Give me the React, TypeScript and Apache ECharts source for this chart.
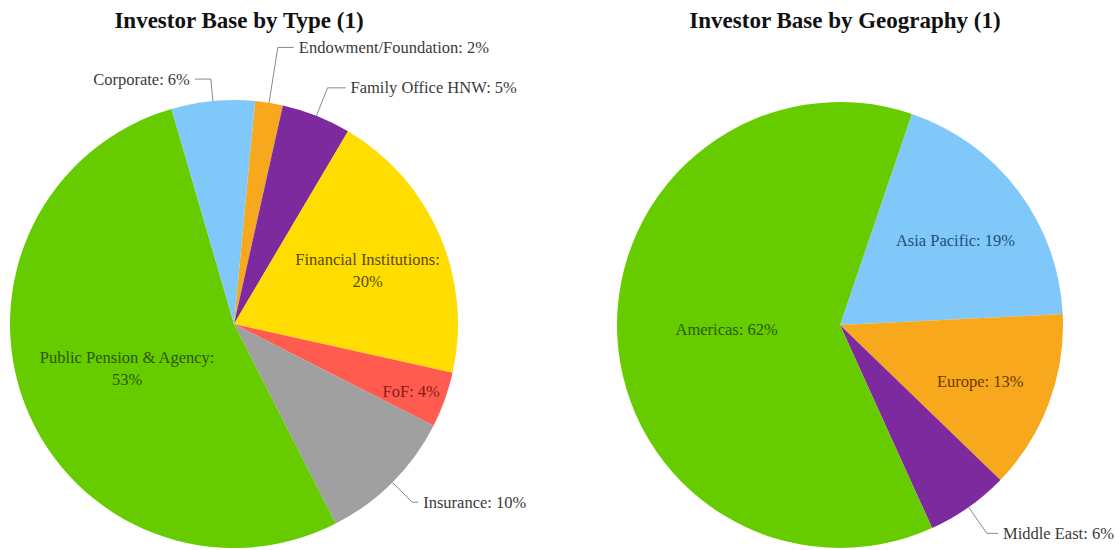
import React, { useEffect, useRef } from "react";
import * as echarts from "echarts";

// ---- data ----
const typeNames = [
  "Endowment/Foundation",
  "Family Office HNW",
  "Financial Institutions",
  "FoF",
  "Insurance",
  "Public Pension & Agency",
  "Corporate",
];
const typeValues = [2, 5, 20, 4, 10, 53, 6];

const geoNames = ["Asia Pacific", "Europe", "Middle East", "Americas"];
const geoValues = [19, 13, 6, 62];

const titles = ["Investor Base by Type (1)", "Investor Base by Geography (1)"];

// ---- styles / layout (not data) ----
const sliceColors: Record<string, string> = {
  "Endowment/Foundation": "#f8a81c",
  "Family Office HNW": "#7d2a9e",
  "Financial Institutions": "#ffdd00",
  FoF: "#ff5b4f",
  Insurance: "#a0a0a0",
  "Public Pension & Agency": "#66cc00",
  Corporate: "#80c8fa",
  "Asia Pacific": "#80c8fa",
  Europe: "#f8a81c",
  "Middle East": "#7d2a9e",
  Americas: "#66cc00",
};
const insideText: Record<string, string> = {
  "Financial Institutions": "#5a4a00",
  FoF: "#8a1a14",
  "Public Pension & Agency": "#2a5a00",
  "Asia Pacific": "#1f4f7a",
  Europe: "#6a3a00",
  Americas: "#2a5a00",
};
const twoLine: Record<string, boolean> = {
  "Financial Institutions": true,
  "Public Pension & Agency": true,
};
const insideShift: Record<string, [number, number]> = {
  "Financial Institutions": [28, -8],
  FoF: [69, 29],
  "Public Pension & Agency": [0, 2],
  "Asia Pacific": [24, -16],
  Europe: [33, 16],
  Americas: [1, -1],
};
const leader: Record<string, [number, number]> = {
  "Endowment/Foundation": [56, 16],
  "Family Office HNW": [30, 18],
  Insurance: [28, 6],
  Corporate: [22, 16],
  "Middle East": [32, 11],
};

const FONT = "'Liberation Serif', 'DejaVu Serif', serif";

function buildData(names: string[], values: number[]) {
  return names.map((n, i) => {
    const outside = !!leader[n];
    const item: any = {
      name: n,
      value: values[i],
      itemStyle: { color: sliceColors[n] },
    };
    if (outside) {
      item.label = {
        position: "outside",
        color: "#3a3a3a",
        formatter: "{b}: {c}%",
      };
      item.labelLine = {
        show: true,
        length: leader[n][0],
        length2: leader[n][1],
        lineStyle: { color: "#8a8a8a", width: 1 },
      };
    } else {
      item.label = {
        position: "inside",
        color: insideText[n],
        formatter: twoLine[n] ? "{b}:\n{c}%" : "{b}: {c}%",
      };
      item.labelLine = { show: false };
    }
    return item;
  });
}

export default function App() {
  const ref = useRef<HTMLDivElement>(null);
  useEffect(() => {
    if (!ref.current) return;
    const chart = echarts.init(ref.current, undefined, { renderer: "svg" });
    const shiftFor = (names: string[]) => (p: any) => {
      const n = names[p.dataIndex];
      const s = insideShift[n];
      if (!s) return {};
      return { dx: s[0], dy: s[1] };
    };
    const commonSeries = {
      type: "pie",
      avoidLabelOverlap: false,
      clockwise: true,
      label: {
        fontFamily: FONT,
        fontSize: 16.5,
        lineHeight: 22,
        distanceToLabelLine: 5,
      },
      emphasis: { disabled: true },
      itemStyle: { borderWidth: 0 },
    };
    const titleStyle = {
      fontFamily: FONT,
      fontSize: 23,
      fontWeight: "bold",
      color: "#111",
    };
    chart.setOption({
      animation: false,
      backgroundColor: "#ffffff",
      title: [
        { text: titles[0], left: 234, top: 4, textAlign: "center", textStyle: titleStyle },
        { text: titles[1], left: 840, top: 4, textAlign: "center", textStyle: titleStyle },
      ],
      series: [
        {
          ...commonSeries,
          name: "Type",
          center: [234, 324],
          radius: 224,
          startAngle: 84.6,
          data: buildData(typeNames, typeValues),
          labelLayout: shiftFor(typeNames),
        },
        {
          ...commonSeries,
          name: "Geography",
          center: [840, 325],
          radius: 223,
          startAngle: 71.2,
          data: buildData(geoNames, geoValues),
          labelLayout: shiftFor(geoNames),
        },
      ],
    });
    return () => chart.dispose();
  }, []);
  return (
    <div
      ref={ref}
      style={{ position: "fixed", left: 0, top: 0, width: 1119, height: 550 }}
    />
  );
}
